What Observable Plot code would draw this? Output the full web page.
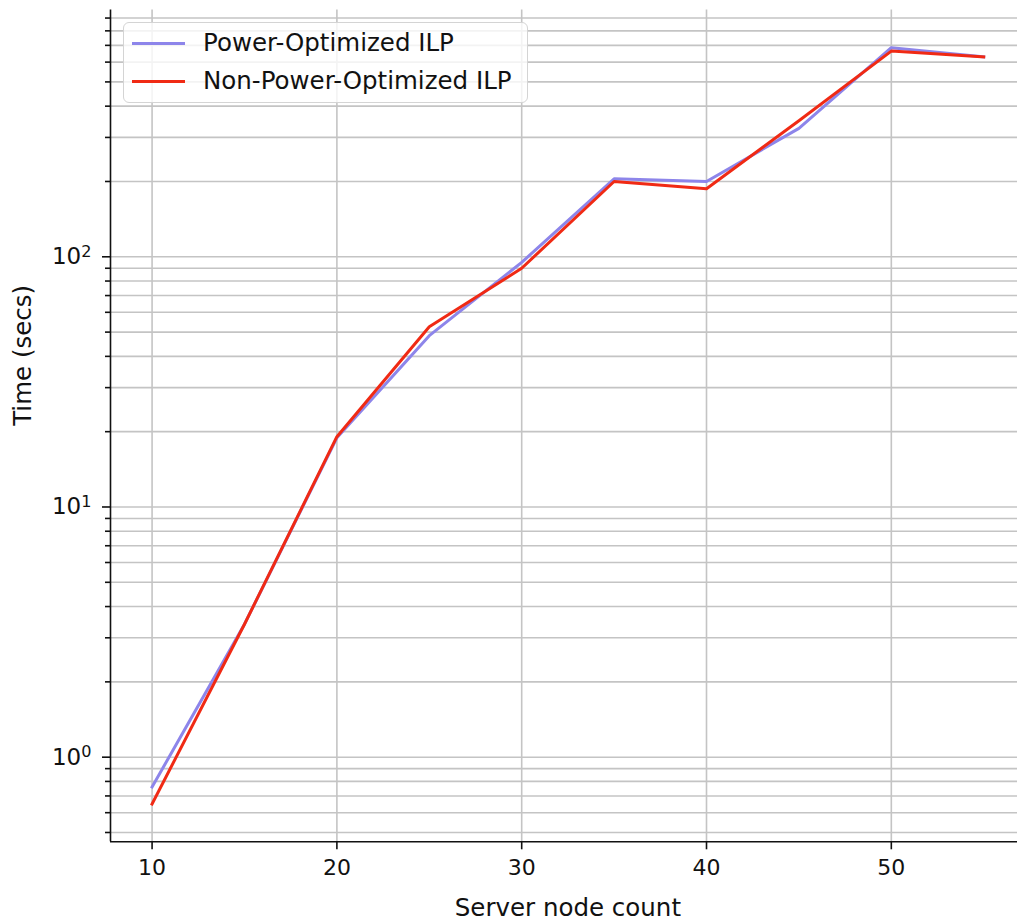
<!DOCTYPE html>
<html>
<head>
<meta charset="utf-8">
<script src="https://cdn.jsdelivr.net/npm/d3@7"></script>
<script src="https://cdn.jsdelivr.net/npm/@observablehq/plot@0.6"></script>
<style>
  html, body { margin: 0; padding: 0; background: #fff; }
  #wrap { position: relative; width: 1017px; height: 922px; font-family: "DejaVu Sans", sans-serif; }
  #legend { position: absolute; left: 123px; top: 22px; width: 403px; height: 79px;
    border: 1.6px solid #d4d4d4; border-radius: 6px; background: rgba(255,255,255,0.8); }
  .row { position: absolute; left: 0; height: 30px; display: flex; align-items: center; }
  .sw { position: absolute; left: 8px; width: 53px; height: 3px; }
  .lab { position: absolute; left: 79px; white-space: nowrap; font-size: 24.5px; color: #111; line-height: 30px; }
</style>
</head>
<body>
<div id="wrap"></div>
<script>
const nodes = [10, 15, 20, 25, 30, 35, 40, 45, 50, 55];
const powerOpt = [0.76, 3.4, 18.9, 48.4, 95, 205, 200, 326, 685, 630];
const nonPowerOpt = [0.65, 3.4, 19.1, 52.5, 90, 200, 187, 350, 664, 630];
const seriesNames = ["Power-Optimized ILP", "Non-Power-Optimized ILP"];
const seriesColors = ["#8d85ea", "#f02a14"];
const xTicks = [10, 20, 30, 40, 50];
const yMajorTicks = [1, 10, 100];
const yTickBases = ["10", "10", "10"];
const yTickExps = ["0", "1", "2"];
const xLabel = "Server node count";
const yLabel = "Time (secs)";

const rows = [];
nodes.forEach((n, i) => {
  rows.push({x: n, y: powerOpt[i], s: seriesNames[0]});
});
nodes.forEach((n, i) => {
  rows.push({x: n, y: nonPowerOpt[i], s: seriesNames[1]});
});

// matplotlib-like 5% margins
const xExt = d3.extent(nodes);
const xPad = (xExt[1] - xExt[0]) * 0.05;
const xDomain = [xExt[0] - xPad, xExt[1] + xPad];
const allY = powerOpt.concat(nonPowerOpt);
const lyExt = d3.extent(allY).map(Math.log10);
const lyPad = (lyExt[1] - lyExt[0]) * 0.05;
const yDomain = [Math.pow(10, lyExt[0] - lyPad), Math.pow(10, lyExt[1] + lyPad)];

const yMinorTicks = [];
for (let e = -1; e <= 3; e++) {
  for (let k = 2; k <= 9; k++) {
    const v = k * Math.pow(10, e);
    if (v >= yDomain[0] && v <= yDomain[1]) yMinorTicks.push(v);
  }
}

const gridColor = "#c4c4c4";
const tickFont = 22;

const chart = Plot.plot({
  width: 1017,
  height: 922,
  marginLeft: 110,
  marginRight: -7.8,
  marginTop: 9.4,
  marginBottom: 80.7,
  style: {fontFamily: "DejaVu Sans, sans-serif", color: "#111", background: "transparent", overflow: "visible"},
  x: {domain: xDomain},
  y: {type: "log", domain: yDomain},
  marks: [
    Plot.gridY(yMinorTicks, {stroke: gridColor, strokeOpacity: 1, strokeWidth: 1.6}),
    Plot.gridY(yMajorTicks, {stroke: gridColor, strokeOpacity: 1, strokeWidth: 1.6}),
    Plot.gridX(xTicks, {stroke: gridColor, strokeOpacity: 1, strokeWidth: 1.6}),
    Plot.line(rows.filter(d => d.s === seriesNames[0]), {x: "x", y: "y", stroke: seriesColors[0], strokeWidth: 3, strokeLinejoin: "round", strokeLinecap: "square"}),
    Plot.line(rows.filter(d => d.s === seriesNames[1]), {x: "x", y: "y", stroke: seriesColors[1], strokeWidth: 3, strokeLinejoin: "round", strokeLinecap: "square"}),
    Plot.axisY(yMinorTicks, {tickSize: 5, tickFormat: () => "", stroke: "#111", strokeWidth: 1.6, label: null}),
    Plot.axisY(yMajorTicks, {tickSize: 8, tickPadding: 11, tickFormat: (d) => "EXP" + yMajorTicks.indexOf(d), fontSize: 23, stroke: "#111", strokeWidth: 1.6, label: null}),
    Plot.axisX(xTicks, {tickSize: 8, tickPadding: 10, fontSize: tickFont, stroke: "#111", strokeWidth: 1.6, label: null}),
    Plot.ruleX([xDomain[0]], {stroke: "#111", strokeWidth: 1.6}),
    Plot.ruleY([yDomain[0]], {stroke: "#111", strokeWidth: 1.6}),
    Plot.text([xLabel], {frameAnchor: "bottom", dy: 74, lineAnchor: "bottom", fontSize: 24.5, fill: "#111"}),
    Plot.text([yLabel], {frameAnchor: "left", rotate: -90, dx: -97, lineAnchor: "top", fontSize: 24.5, fill: "#111"})
  ]
});

// render y tick labels as base with a superscript exponent
d3.select(chart).selectAll("text").each(function() {
  const t = this.textContent;
  const m = /^EXP(\d+)$/.exec(t);
  if (!m) return;
  const i = +m[1];
  const sel = d3.select(this);
  sel.text(null);
  sel.append("tspan").text(yTickBases[i]);
  sel.append("tspan").attr("dy", "-0.45em").attr("font-size", "0.7em").text(yTickExps[i]);
});

const wrap = document.getElementById("wrap");
wrap.appendChild(chart);

const legend = document.createElement("div");
legend.id = "legend";
seriesNames.forEach((name, i) => {
  const row = document.createElement("div");
  row.className = "row";
  row.style.top = (5 + i * 38) + "px";
  const sw = document.createElement("div");
  sw.className = "sw";
  sw.style.background = seriesColors[i];
  sw.style.top = "13.5px";
  const lab = document.createElement("div");
  lab.className = "lab";
  lab.textContent = name;
  row.appendChild(sw);
  row.appendChild(lab);
  legend.appendChild(row);
});
wrap.appendChild(legend);
</script>
</body>
</html>
